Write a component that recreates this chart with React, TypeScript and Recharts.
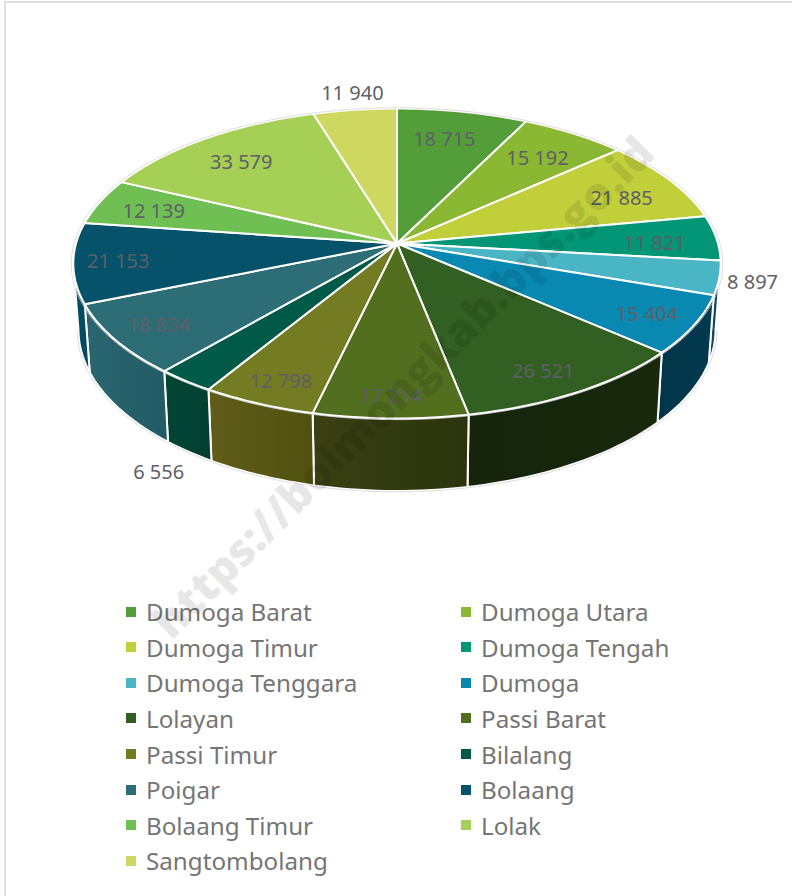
import React from "react";
import { PieChart, Pie, Legend } from "recharts";

const categories = ["Dumoga Barat","Dumoga Utara","Dumoga Timur","Dumoga Tengah","Dumoga Tenggara","Dumoga","Lolayan","Passi Barat","Passi Timur","Bilalang","Poigar","Bolaang","Bolaang Timur","Lolak","Sangtombolang"];
const values = [18715,15192,21885,11821,8897,15404,26521,17214,12798,6556,18834,21153,12139,33579,11940];
const topColors = ["#549E39","#8AB833","#C0CF3A","#029676","#4AB5C4","#0989B1","#325F22","#526E1F","#737C23","#015A47","#2C6D76","#05526A","#6FBF52","#A5D055","#CED861"];
const wallFrom = ["#333","#333","#333","#333","#0f4a5a","#013449","#15240b","#3a4013","#605c19","#024534","#2a6670","#034a62","#333","#333","#333"];
const wallTo = ["#333","#333","#333","#333","#0f4a5a","#023a50","#18290c","#2b340d","#50510f","#024030","#215b66","#034a62","#333","#333","#333"];
const labelRadius = [0.76,0.77,0.80,0.80,1.10,0.85,0.855,0.886,0.865,1.12,0.856,0.863,0.814,0.776,1.15];
const labelBelowWall = [0,0,0,0,0,0,0,0,0,1,0,0,0,0,0];
const labelShiftX = [-4,1,4,2,0,0,-6,0,2,2,0,0,0,-4,3];
const labelShiftY = [-2,0,5,3,0,1,2,0,1,-2,0,0,1,1,0];

const CX = 397, CY = 243.5, R = 321, TILT = 152.4, PERSP = 0.129, DEPTH = 65.6, BOTTOM_SCALE = 0.984;
const rad = Math.PI / 180;

const project = (angle: number, r: number, drop = 0, scale = 1) => {
  const u = Math.cos(angle * rad) * r;
  const v = Math.sin(angle * rad) * r;
  const s = 1 + PERSP * v;
  return [CX + (R * u * scale) / s, CY + (-TILT * v * scale + drop) / s];
};
const arcPoints = (a0: number, a1: number, r: number, drop = 0, scale = 1) => {
  const n = Math.max(2, Math.ceil(Math.abs(a1 - a0) / 1.5));
  const pts: number[][] = [];
  for (let i = 0; i <= n; i++) pts.push(project(a0 + ((a1 - a0) * i) / n, r, drop, scale));
  return pts;
};
const toPath = (pts: number[][]) => pts.map((p, i) => `${i ? "L" : "M"}${p[0].toFixed(2)} ${p[1].toFixed(2)}`).join("");

const rows = categories.map((name, idx) => ({ name, value: values[idx], fill: topColors[idx], idx }));

const TopSlice = (props: any) => {
  const { startAngle, endAngle, fill } = props;
  const arc = arcPoints(startAngle, endAngle, 1);
  const outline = arcPoints(startAngle, endAngle, 1.006);
  return (
    <g>
      <path d={`M${CX} ${CY}${toPath(arc).replace("M", "L")}Z`} fill={fill} stroke="#fff" strokeWidth={2} strokeLinejoin="round" />
      <path d={toPath(outline)} fill="none" stroke="#d4d4d4" strokeWidth={0.8} />
    </g>
  );
};

const silhouette = Math.asin(PERSP) / rad;
const WallSlice = (props: any) => {
  const { startAngle, endAngle } = props;
  const idx = props.idx ?? props.payload?.idx;
  const hi = Math.min(startAngle, -silhouette);
  const lo = Math.max(endAngle, -180 + silhouette);
  if (hi <= lo) return <g />;
  const top = arcPoints(hi, lo, 1);
  const bottom = arcPoints(lo, hi, 1, DEPTH, BOTTOM_SCALE);
  const under = arcPoints(lo, hi, 1.004, DEPTH, BOTTOM_SCALE);
  return (
    <g>
      <path d={`${toPath(top)}${toPath(bottom).replace("M", "L")}Z`} fill={`url(#wall${idx})`} stroke="#fff" strokeWidth={2} strokeLinejoin="round" />
      <path d={toPath(under)} fill="none" stroke="#d4d4d4" strokeWidth={0.8} />
    </g>
  );
};

const formatValue = (n: number) => String(n).replace(/\B(?=(\d{3})+$)/g, " ");

const renderLabel = (props: any) => {
  const { midAngle, index, value } = props;
  const [x, y] = project(midAngle, labelRadius[index], labelBelowWall[index] ? DEPTH : 0);
  return (
    <text x={x + labelShiftX[index]} y={y + labelShiftY[index]} textAnchor="middle" dominantBaseline="central" fontFamily="Noto Sans" fontSize={20} fill="#5f5f66">
      {formatValue(value)}
    </text>
  );
};

const renderLegend = (props: any) => {
  const seen = new Set<string>();
  const items = (props.payload || []).filter((item: any) => {
    if (seen.has(item.value)) return false;
    seen.add(item.value);
    return true;
  });
  return (
    <div style={{ display: "grid", gridTemplateColumns: "335px 335px", paddingLeft: 126, gridAutoRows: "35.57px" }}>
      {items.map((item: any) => (
        <div key={item.value} style={{ display: "flex", alignItems: "center", fontFamily: "Noto Sans", fontSize: 24.2, color: "#757575", whiteSpace: "nowrap" }}>
          <span style={{ width: 10, height: 10, background: item.color, marginRight: 10, flex: "none" }} />
          {item.value}
        </div>
      ))}
    </div>
  );
};

export default function App() {
  return (
    <div style={{ position: "absolute", left: 0, top: 0, width: 792, height: 896, background: "#fff", overflow: "hidden" }}>
      <div style={{ position: "absolute", left: 4, top: 1, width: 800, height: 900, borderLeft: "2px solid #dedede", borderTop: "2px solid #dedede" }} />
      <div style={{ position: "absolute", left: 0, top: 0 }}>
        <PieChart width={792} height={896} margin={{ top: 0, right: 0, bottom: 0, left: 0 }}>
          <defs>
            {categories.map((_, i) => (
              <linearGradient key={i} id={`wall${i}`} x1="0" y1="0" x2="1" y2="0">
                <stop offset="0" stopColor={wallFrom[i]} />
                <stop offset="1" stopColor={wallTo[i]} />
              </linearGradient>
            ))}
          </defs>
          <Pie data={rows} dataKey="value" nameKey="name" cx={CX} cy={CY} outerRadius={R} startAngle={90} endAngle={-270} isAnimationActive={false} legendType="none" shape={WallSlice} />
          <Pie data={rows} dataKey="value" nameKey="name" cx={CX} cy={CY} outerRadius={R} startAngle={90} endAngle={-270} isAnimationActive={false} shape={TopSlice} label={renderLabel} labelLine={false} />
          <Legend content={renderLegend} itemSorter={null} wrapperStyle={{ position: "absolute", left: 0, top: 594, width: 792 }} />
        </PieChart>
      </div>
      <svg width={792} height={896} style={{ position: "absolute", left: 0, top: 0, pointerEvents: "none" }}>
        <text x={402} y={386} textAnchor="middle" dominantBaseline="central" transform="rotate(-45 402 386)" fontFamily="Open Sans" fontWeight={800} fontSize={45} fill="#000" fillOpacity={0.1}>
          https://bolmongkab.bps.go.id
        </text>
      </svg>
    </div>
  );
}
